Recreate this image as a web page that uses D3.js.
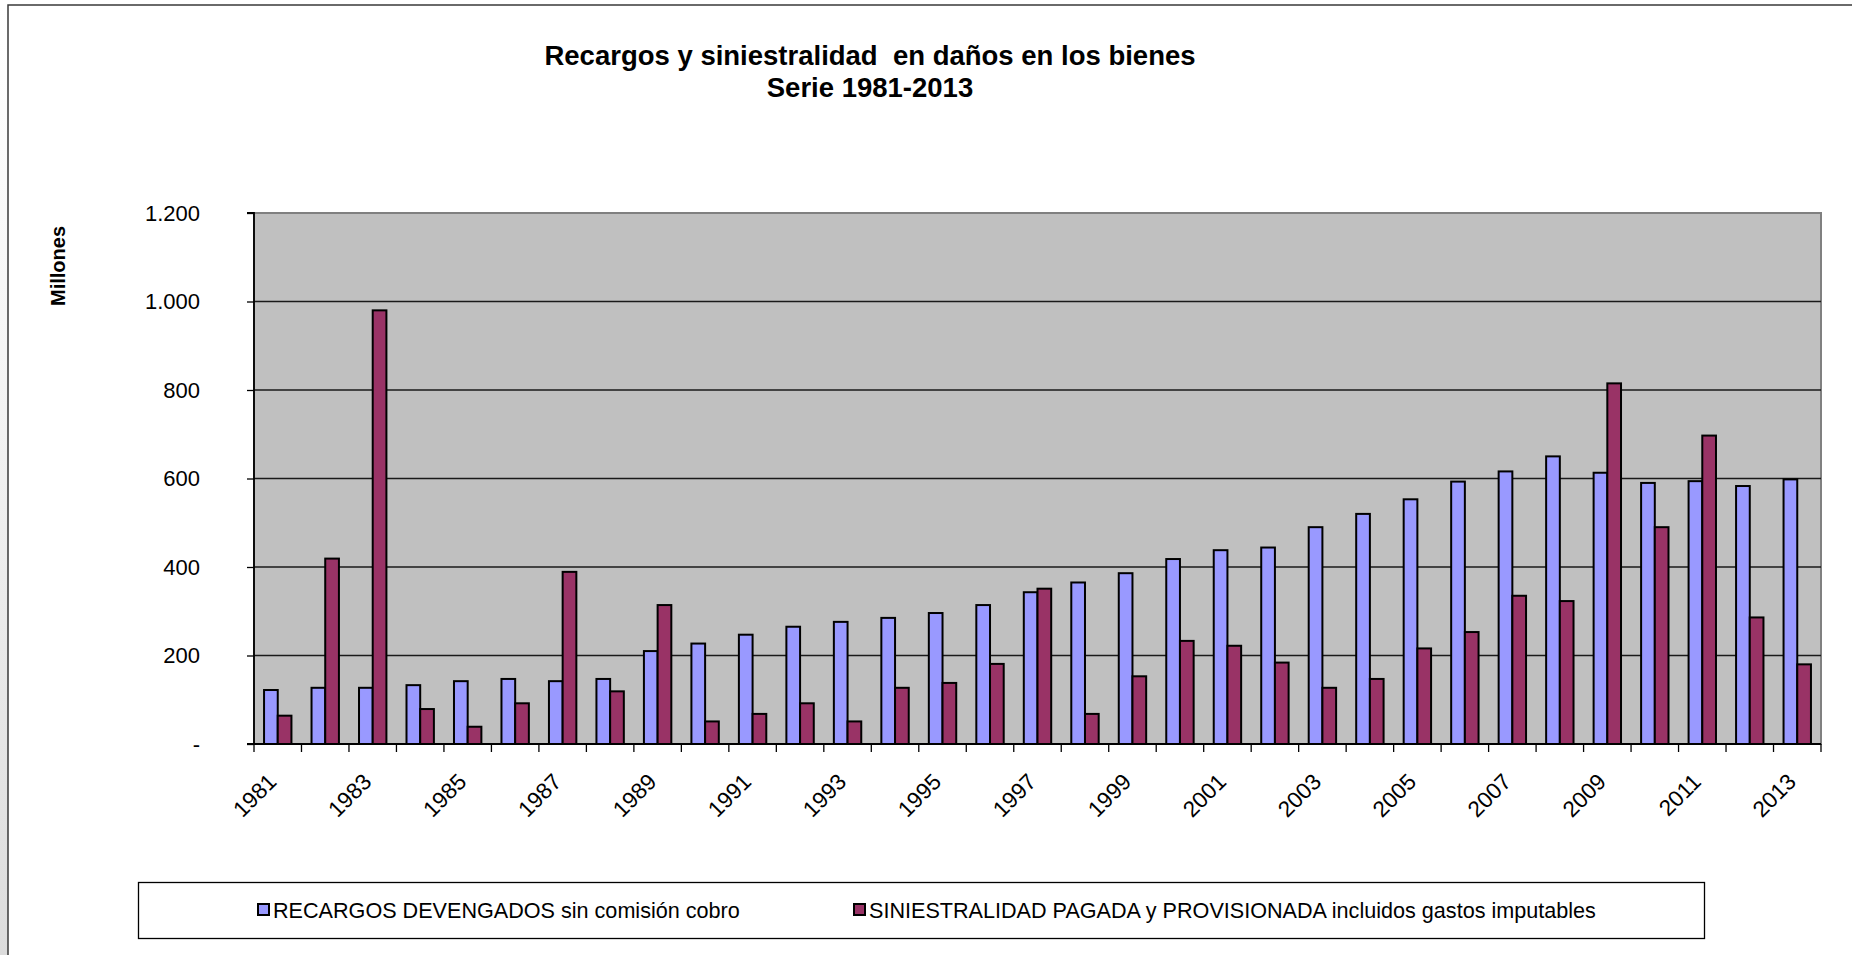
<!DOCTYPE html>
<html>
<head>
<meta charset="utf-8">
<script src="https://cdn.jsdelivr.net/npm/d3@7"></script>
<style>
  html, body { margin: 0; padding: 0; background: #fff; }
  svg { display: block; }
  text { font-family: "Liberation Sans", Arial, sans-serif; fill: #000; white-space: pre; }
</style>
</head>
<body>
<svg id="chart" width="1852" height="955"></svg>
<script>
const years = ["1981","1982","1983","1984","1985","1986","1987","1988","1989","1990",
  "1991","1992","1993","1994","1995","1996","1997","1998","1999","2000",
  "2001","2002","2003","2004","2005","2006","2007","2008","2009","2010",
  "2011","2012","2013"];
const recargos = [122,127,127,133,142,147,142,147,210,227,
  247,265,276,285,296,314,343,365,386,418,
  438,444,490,520,553,593,616,650,613,590,
  594,583,598];
const siniestralidad = [64,419,980,79,39,92,389,119,314,51,
  68,92,51,127,138,181,351,68,153,233,
  222,184,127,147,216,253,335,323,815,490,
  697,286,180];
const yTickValues = [0,200,400,600,800,1000,1200];
const yTickLabels = ["-","200","400","600","800","1.000","1.200"];
const xLabelYears = ["1981","1983","1985","1987","1989","1991","1993","1995","1997","1999","2001","2003","2005","2007","2009","2011","2013"];
const seriesNames = ["RECARGOS DEVENGADOS sin comisión cobro","SINIESTRALIDAD PAGADA y PROVISIONADA incluidos gastos imputables"];
const seriesColors = ["#9999FF","#993366"];
const titleLines = ["Recargos y siniestralidad  en daños en los bienes","Serie 1981-2013"];
const yAxisTitle = "Millones";

const svg = d3.select("#chart");
const W = 1852, H = 955;
const plot = {left: 254, right: 1821, top: 213, bottom: 744};

// left shadow strip
const defs = svg.append("defs");
const grad = defs.append("linearGradient").attr("id","strip").attr("x1",0).attr("y1",0).attr("x2",0).attr("y2",1);
grad.append("stop").attr("offset","0%").attr("stop-color","#ffffff");
grad.append("stop").attr("offset","40%").attr("stop-color","#f4f4f4");
grad.append("stop").attr("offset","100%").attr("stop-color","#dcdcdc");
svg.append("rect").attr("x",0).attr("y",5).attr("width",8).attr("height",H-5).attr("fill","url(#strip)");

// outer frame
svg.append("rect").attr("x",8).attr("y",5).attr("width",W+20).attr("height",H+20)
  .attr("fill","#fff").attr("stroke","#3a3a3a").attr("stroke-width",1.5);

// title
svg.append("text").attr("x",870).attr("y",65).attr("text-anchor","middle")
  .attr("font-size",27.5).attr("font-weight","bold").text(titleLines[0]);
svg.append("text").attr("x",870).attr("y",97).attr("text-anchor","middle")
  .attr("font-size",27.5).attr("font-weight","bold").text(titleLines[1]);

// scales
const x0 = d3.scaleBand().domain(years).range([plot.left, plot.right])
  .paddingInner(0.423).paddingOuter(0.2115);
const x1 = d3.scaleBand().domain([0,1]).range([0, x0.bandwidth()]).padding(0);
const y = d3.scaleLinear().domain([0,1200]).range([plot.bottom, plot.top]);

// plot background
svg.append("rect").attr("x",plot.left).attr("y",plot.top)
  .attr("width",plot.right-plot.left).attr("height",plot.bottom-plot.top)
  .attr("fill","#C0C0C0").attr("stroke","#808080").attr("stroke-width",2);

// gridlines
svg.append("g").selectAll("line").data(yTickValues.filter(v => v > 0 && v < 1200)).join("line")
  .attr("x1",plot.left).attr("x2",plot.right)
  .attr("y1",d => y(d)).attr("y2",d => y(d))
  .attr("stroke","#1a1a1a").attr("stroke-width",1.3);

// bars
const groups = svg.append("g").selectAll("g").data(years).join("g")
  .attr("transform", d => `translate(${x0(d)},0)`);
[recargos, siniestralidad].forEach((vals, si) => {
  groups.append("rect")
    .attr("x", x1(si))
    .attr("width", x1.bandwidth())
    .attr("y", (d,i) => y(vals[i]))
    .attr("height", (d,i) => y(0) - y(vals[i]))
    .attr("fill", seriesColors[si])
    .attr("stroke","#000").attr("stroke-width",2);
});

// y axis
const yAxis = d3.axisLeft(y).tickValues(yTickValues).tickSize(7)
  .tickFormat((d,i) => yTickLabels[i]).tickPadding(47);
const gy = svg.append("g").attr("transform",`translate(${plot.left},0)`).call(yAxis);
gy.select(".domain").attr("stroke","#000").attr("stroke-width",1.8).attr("d",`M-7,${plot.top}H0V${plot.bottom}`);
gy.selectAll(".tick line").attr("stroke","#000").attr("stroke-width",1.3);
gy.selectAll(".tick text").attr("font-size",22).attr("font-family","Liberation Sans, Arial, sans-serif").attr("fill","#000");

// x axis (ticks at category boundaries)
const boundaries = years.map((d,i) => i).concat([years.length]);
const gx = svg.append("g");
gx.append("line").attr("x1",plot.left-7).attr("x2",plot.right).attr("y1",plot.bottom).attr("y2",plot.bottom)
  .attr("stroke","#000").attr("stroke-width",1.8);
const bx = i => i === years.length ? plot.right : x0(years[i]) - x0.step()*x0.paddingOuter();
gx.selectAll("line.tk").data(boundaries).join("line").attr("class","tk")
  .attr("x1", bx).attr("x2", bx)
  .attr("y1",plot.bottom).attr("y2",plot.bottom+8)
  .attr("stroke","#000").attr("stroke-width",1.3);

gx.selectAll("text").data(xLabelYears).join("text")
  .attr("transform", d => `translate(${x0(d) + x0.bandwidth()/2 - 11},${plot.bottom + 28}) rotate(-45)`)
  .attr("text-anchor","end").attr("dy","0.7em")
  .attr("font-size",22.5).text(d => d);

// y axis title
svg.append("text").attr("transform","translate(65,266) rotate(-90)")
  .attr("text-anchor","middle").attr("font-size",20).attr("font-weight","bold").text(yAxisTitle);

// legend
svg.append("rect").attr("x",138.5).attr("y",882.5).attr("width",1566).attr("height",56)
  .attr("fill","#fff").attr("stroke","#000").attr("stroke-width",1.3);
const legendX = [258, 854];
seriesNames.forEach((name, i) => {
  svg.append("rect").attr("x",legendX[i]).attr("y",904).attr("width",11).attr("height",11)
    .attr("fill",seriesColors[i]).attr("stroke","#000").attr("stroke-width",2);
  svg.append("text").attr("x",legendX[i]+15).attr("y",918).attr("font-size",21.6).text(name);
});
</script>
</body>
</html>
